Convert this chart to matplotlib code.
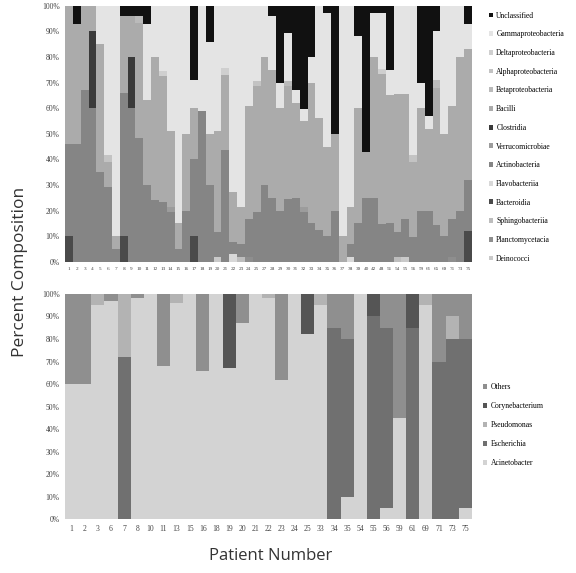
import numpy as np
import matplotlib
matplotlib.use("Agg")
import matplotlib.pyplot as plt
from matplotlib.patches import Patch

# pacientes del panel de arriba (clases) y del panel de abajo (generos)
pac_arriba = [str(i) for i in range(1, 26)] + [str(i) for i in range(27, 41)] + \
    ["42", "48", "51", "54", "55", "56", "59", "61", "65", "69", "71", "73", "75"]
pac_abajo = ["1", "2", "3", "6", "7", "8", "10", "11", "13", "15", "16", "18", "19", "20",
             "21", "22", "23", "24", "25", "33", "34", "35", "54", "55", "56", "59", "61",
             "69", "71", "73", "75"]

# clases (orden de la leyenda, de arriba hacia abajo)
clases = ["Unclassified", "Gammaproteobacteria", "Deltaproteobacteria", "Alphaproteobacteria",
          "Betaproteobacteria", "Bacilli", "Clostridia", "Verrucomicrobiae", "Actinobacteria",
          "Flavobacteriia", "Bacteroidia", "Sphingobacteriia", "Planctomycetacia", "Deinococci"]
colores_clases = ["#111111", "#e4e4e4", "#cfcfcf", "#c3c3c3", "#bababa", "#ababab", "#3a3a3a",
                  "#9c9c9c", "#858585", "#d8d8d8", "#4a4a4a", "#bdbdbd", "#8e8e8e", "#c9c9c9"]

unclassified = [0, 7, 0, 0, 0, 0, 0, 4, 4, 4, 7, 0, 0, 0, 0, 0, 29, 0, 14, 0, 0, 0, 0, 0, 0, 0,
                4, 30, 11, 33, 41, 20, 0, 3, 50, 0, 0, 12, 57, 3, 3, 25, 0, 0, 0, 30, 43, 10, 0, 0, 0, 7]
gamma = [0, 0, 0, 0, 15, 60, 90, 0, 0, 0, 30, 20, 26, 50, 85, 50, 11, 41, 36, 50, 25, 75, 80, 40, 30, 20,
         21, 10, 19, 5, 5, 10, 35, 52, 0, 90, 80, 28, 0, 17, 22, 10, 35, 35, 60, 10, 5, 20, 50, 40, 20, 10]
delta = [0] * 12 + [2] + [0] * 7 + [3] + [0] * 19 + [2] + [0] * 11
alpha = [0] * 5 + [3] + [0] * 18 + [2] + [0] * 19 + [3] + [0] * 7
beta = [0] * 9 + [3] + [0] * 18 + [2] + [0] * 18 + [3] + [0] * 4
bacilli = [54, 47, 33, 10, 50, 10, 5, 30, 16, 46, 33, 56, 50, 30, 10, 30, 20, 0, 20, 40, 30, 20, 15, 45, 50, 50,
           50, 40, 45, 37, 34, 55, 35, 35, 30, 10, 15, 45, 18, 55, 60, 50, 55, 50, 30, 40, 32, 55, 40, 45, 60, 51]
clostridia = [0, 0, 0, 30, 0, 0, 0, 0, 20] + [0] * 43
verruco = [0] * 13 + [2] + [0] * 16 + [2] + [0] * 21
actino = [36, 46, 67, 60, 35, 30, 5, 56, 60, 50, 30, 24, 24, 20, 5, 20, 30, 59, 30, 10, 45, 5, 5, 15, 20, 30,
          25, 20, 25, 25, 20, 15, 10, 10, 20, 0, 5, 15, 25, 25, 15, 15, 10, 15, 10, 20, 20, 15, 10, 15, 20, 20]
flavo = [0] * 21 + [3] + [0] * 14 + [2] + [0] * 15
bacteroidia = [10, 0, 0, 0, 0, 0, 0, 10] + [0] * 8 + [10] + [0] * 34 + [12]
sphingo = [0] * 22 + [2] + [0] * 19 + [2] + [0] * 9
plancto = [0] * 23 + [2] + [0] * 25 + [2] + [0] * 2
deino = [0] * 19 + [2] + [0] * 23 + [2] + [0] * 8

datos_clases = [unclassified, gamma, delta, alpha, beta, bacilli, clostridia, verruco,
                actino, flavo, bacteroidia, sphingo, plancto, deino]

# generos (orden de la leyenda, de arriba hacia abajo)
generos = ["Others", "Corynebacterium", "Pseudomonas", "Escherichia", "Acinetobacter"]
colores_generos = ["#8f8f8f", "#555555", "#b3b3b3", "#707070", "#d3d3d3"]

others = [40, 40, 0, 3, 0, 2, 0, 32, 0, 0, 34, 0, 0, 13, 0, 0, 38, 0, 0, 0, 15, 20, 0, 0, 15, 55, 0, 0, 30, 10, 20]
coryne = [0, 0, 0, 0, 0, 0, 0, 0, 0, 0, 0, 0, 33, 0, 0, 0, 0, 0, 18, 0, 0, 0, 0, 10, 0, 0, 15, 0, 0, 0, 0]
pseudo = [0, 0, 5, 0, 28, 0, 0, 0, 4, 0, 0, 0, 0, 0, 0, 2, 0, 0, 0, 5, 0, 0, 0, 0, 0, 0, 0, 5, 0, 10, 0]
escher = [0, 0, 0, 0, 72, 0, 0, 0, 0, 0, 0, 0, 0, 0, 0, 0, 0, 0, 0, 0, 85, 70, 0, 90, 80, 0, 85, 0, 70, 80, 75]
acineto = [60, 60, 95, 97, 0, 98, 100, 68, 96, 100, 66, 100, 67, 87, 100, 98, 62, 100, 82, 95, 0, 10, 100, 0, 5,
           45, 0, 95, 0, 0, 5]

datos_generos = [others, coryne, pseudo, escher, acineto]

fuente_ejes = ["Liberation Serif", "DejaVu Serif"]


def barras_apiladas(ax, etiquetas, datos, nombres, colores, tam_x):
    tabla = np.array(datos, dtype=float)
    tabla = tabla / tabla.sum(axis=0) * 100  # columnas al 100%
    x = np.arange(len(etiquetas))
    abajo = np.zeros(len(etiquetas))
    # se apila desde el ultimo de la leyenda hacia el primero
    for i in range(len(nombres) - 1, -1, -1):
        ax.bar(x, tabla[i], bottom=abajo, width=1.0, color=colores[i], edgecolor="none", label=nombres[i])
        abajo = abajo + tabla[i]
    ax.set_xlim(-0.5, len(etiquetas) - 0.5)
    ax.set_ylim(0, 100)
    ax.set_yticks(np.arange(0, 101, 10))
    ax.set_yticklabels([f"{v}%" for v in range(0, 101, 10)], fontsize=5.5, family=fuente_ejes, color="#444444")
    ax.set_xticks(x)
    ax.set_xticklabels(etiquetas, fontsize=tam_x, family=fuente_ejes, color="#444444")
    ax.tick_params(length=0, pad=4)
    for s in ax.spines.values():
        s.set_visible(False)


fig = plt.figure(figsize=(5.76, 5.73), dpi=100)
ax1 = fig.add_axes([0.113, 0.543, 0.706, 0.447])
ax2 = fig.add_axes([0.113, 0.094, 0.706, 0.393])

barras_apiladas(ax1, pac_arriba, datos_clases, clases, colores_clases, 3.8)
barras_apiladas(ax2, pac_abajo, datos_generos, generos, colores_generos, 5.5)

# leyendas con el mismo orden que la figura original
h1 = [Patch(facecolor=c, edgecolor="none") for c in colores_clases]
fig.legend(h1, clases, loc="upper left", bbox_to_anchor=(0.843, 0.985), frameon=False,
           prop={"family": fuente_ejes, "size": 5.5}, handlelength=0.6, handleheight=0.6,
           handletextpad=0.4, labelspacing=1.4, borderaxespad=0)
h2 = [Patch(facecolor=c, edgecolor="none") for c in colores_generos]
fig.legend(h2, generos, loc="upper left", bbox_to_anchor=(0.833, 0.337), frameon=False,
           prop={"family": fuente_ejes, "size": 5.5}, handlelength=0.6, handleheight=0.6,
           handletextpad=0.4, labelspacing=1.45, borderaxespad=0)

fig.text(0.035, 0.525, "Percent Composition", rotation=90, ha="center", va="center",
         fontsize=12.5, family=["Open Sans", "DejaVu Sans"], color="#333333")
fig.text(0.47, 0.03, "Patient Number", ha="center", va="center",
         fontsize=12, family=["Open Sans", "DejaVu Sans"], color="#333333")

fig.savefig("out.png", dpi=100)
